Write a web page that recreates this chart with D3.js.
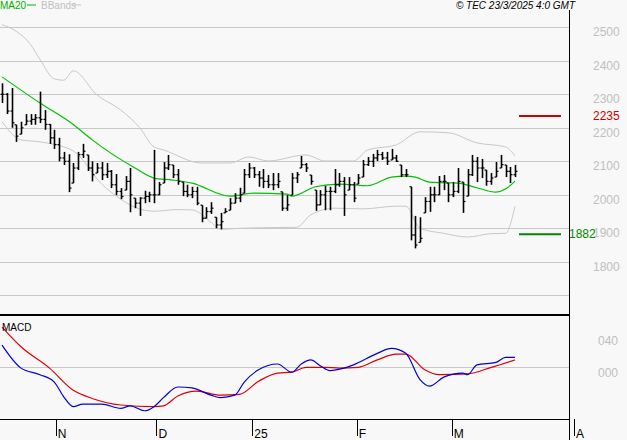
<!DOCTYPE html>
<html><head><meta charset="utf-8">
<script src="https://cdn.jsdelivr.net/npm/d3@7"></script>
<style>body{margin:0;background:#f8f8f8}svg{display:block}text{font-family:"Liberation Sans",Arial,sans-serif}</style>
</head><body><svg id="c" width="627" height="440"></svg>
<script>
const highs=[2333,2304,2319,2209,2218,2241,2241,2241,2308,2253,2211,2194,2170,2128,2121,2095,2128,2152,2119,2100,2095,2098,2095,2074,2062,2020,2056,2080,
1990,1993,2012,2009,2134,2038,2098,2119,2089,2077,2038,2030,2024,2024,1969,1963,1978,1933,1946,1960,1990,2005,2021,2077,2095,2083,2071,
2077,2059,2065,2065,2009,1999,2065,2068,2116,2095,2059,2014,2014,2027,2024,2077,2065,2053,2053,2038,2062,2104,2113,2122,2134,2128,2128,
2137,2119,2089,2077,2024,1937,1933,1993,2024,2024,2056,2059,2035,2038,2080,2038,2077,2119,2113,2107,2074,2065,2098,2119,2089,2083,2089];
const lows=[2274,2241,2200,2158,2181,2209,2209,2209,2214,2194,2152,2137,2100,2089,2008,2035,2074,2110,2071,2040,2065,2044,2050,2020,1999,1987,2014,1948,
1960,1937,1975,1978,1975,1999,2035,2074,2050,2030,1996,1993,1990,1969,1918,1930,1943,1900,1897,1946,1954,1975,1978,2005,2050,2050,2024,
2020,2020,2014,2020,1952,1952,1999,2035,2080,2068,2030,1952,1969,1954,1954,2005,2024,1937,2014,1978,2032,2053,2086,2083,2101,2104,2089,
2104,2098,2053,2053,1864,1840,1858,1946,1949,1978,1999,2014,1978,1993,2005,1946,1996,2056,2038,2050,2027,2030,2053,2080,2053,2035,2053];
const closes=[2300,2250,2215,2175,2200,2220,2225,2230,2225,2210,2170,2150,2110,2100,2020,2080,2120,2130,2080,2060,2080,2060,2070,2030,2010,1995,2040,2000,
1975,1990,1995,2000,2000,2030,2080,2090,2060,2040,2010,2000,2010,1975,1930,1950,1960,1910,1920,1950,1975,1990,2000,2060,2080,2060,2050,
2040,2030,2030,2040,1960,1970,2050,2060,2090,2080,2040,1970,2000,2010,2010,2030,2040,2000,2030,1990,2050,2090,2100,2110,2120,2110,2100,
2110,2100,2060,2060,1880,1850,1870,1980,2000,2000,2040,2040,2000,2010,2040,1980,2060,2100,2080,2080,2040,2050,2070,2090,2070,2060,2070];
const ma20=[[0,2352],[8,2274],[15,2210],[19,2164],[28,2080],[32,2050],[36,2044],[40,2035],[48,1996],[53,2005],[60,2002],[61,1996],[66,2024],[71,2032],[77,2027],[82,2053],[85,2056],[87,2053],[90,2038],[96,2035],[100,2021],[104,2008],[106,2017],[108,2041]];
const bbUpper=[[0,2508],[3,2488],[6,2449],[8,2404],[11,2346],[13,2342],[15,2370],[20,2298],[25,2253],[29,2200],[32,2143],[34,2134],[42,2095],[48,2095],[52,2113],[56,2101],[64,2119],[68,2101],[74,2101],[77,2134],[83,2149],[88,2188],[94,2185],[100,2155],[106,2143],[108,2116]];
const bbLower=[[0,2218],[4,2164],[8,2158],[15,2131],[21,2032],[25,1987],[28,1963],[32,1951],[37,1956],[40,1955],[42,1942],[44,1918],[46,1897],[50,1900],[56,1902],[62,1903],[65,1940],[70,1960],[76,1958],[83,1966],[85,1966],[88,1900],[93,1885],[98,1874],[103,1884],[106,1885],[108,1966]];
const macdLine=[[0,27],[4,-1],[8,-9],[11,-18],[13,-36],[15,-48],[17,-45],[21,-45],[25,-50],[27,-47],[30,-53],[32,-48],[34,-37],[37,-24],[40,-25],[44,-34],[46,-37],[49,-34],[51,-18],[54,-3],[58,4],[61,-6],[63,4],[65,9],[67,2],[69,-4],[72,-1],[74,3],[79,17],[82,23],[85,17],[88,-15],[90,-23],[93,-12],[97,-7],[98,-9],[100,3],[104,6],[106,12],[108,12]];
const signalLine=[[0,49],[4,25],[10,-1],[15,-28],[19,-38],[25,-46],[32,-48],[34,-47],[37,-35],[41,-29],[46,-34],[50,-33],[54,-17],[58,-7],[61,-6],[64,0],[68,0],[71,-1],[75,0],[79,9],[83,16],[85,16],[89,-3],[92,-9],[98,-8],[103,0],[108,9]];
const priceTicks=[1800,1900,2000,2100,2200,2300,2400,2500];
const gridPrices=[1700,1800,1900,2000,2100,2200,2300,2400,2500];
const macdTicks=[0,40];
const monthTicks=[[11.3,"N"],[32.5,"D"],[52.7,"25"],[74.7,"F"],[94.7,"M"],[120.4,"A"]];
const resistance=2235, support=1882;

const svg=d3.select("#c");
svg.append("rect").attr("width",627).attr("height",440).attr("fill","#f8f8f8");
const x=d3.scaleLinear().domain([0,108]).range([2,515]);
const y=d3.scaleLinear().domain([1700,2500]).range([295.3,27.3]);
const ym=d3.scaleLinear().domain([-60,40]).range([416.5,334.5]);
const grid="#c8c8c8";
svg.selectAll(".g").data(gridPrices).enter().append("line").attr("x1",0).attr("x2",569)
 .attr("y1",d=>Math.round(y(d))+0.5).attr("y2",d=>Math.round(y(d))+0.5).attr("stroke",grid);
svg.selectAll(".pl").data(priceTicks).enter().append("text").attr("x",593).attr("y",d=>y(d)+9)
 .attr("fill","#c0c0c0").attr("font-size",12).text(d=>d);
const line=d3.line().x(d=>x(d[0])).y(d=>y(d[1])).curve(d3.curveMonotoneX);
[[bbUpper,"#c8c8c8"],[bbLower,"#c8c8c8"]].forEach(([d,c])=>svg.append("path").attr("d",line(d)).attr("fill","none").attr("stroke",c).attr("stroke-width",1));
svg.append("path").attr("d",line(ma20)).attr("fill","none").attr("stroke","#00c000").attr("stroke-width",1.2);
const bars=svg.append("g").attr("stroke","#000").attr("stroke-width",1.6);
highs.forEach((h,i)=>{const X=Math.round(x(i))+0.5;
 bars.append("line").attr("x1",X).attr("x2",X).attr("y1",y(h)).attr("y2",y(lows[i]));
 const o=i>0?closes[i-1]:closes[i];
 bars.append("line").attr("x1",X-2).attr("x2",X).attr("y1",y(Math.min(h,Math.max(lows[i],o)))).attr("y2",y(Math.min(h,Math.max(lows[i],o)))).attr("stroke-width",1.2);
 bars.append("line").attr("x1",X).attr("x2",X+2).attr("y1",y(closes[i])).attr("y2",y(closes[i])).attr("stroke-width",1.2);
});
svg.append("line").attr("x1",519).attr("x2",561).attr("y1",y(resistance)).attr("y2",y(resistance)).attr("stroke","#cc0000").attr("stroke-width",2);
svg.append("text").attr("x",593).attr("y",y(resistance)+4).attr("fill","#cc0000").attr("font-size",12).text(resistance);
svg.append("line").attr("x1",519).attr("x2",561).attr("y1",y(support)).attr("y2",y(support)).attr("stroke","#008800").attr("stroke-width",2);
svg.append("text").attr("x",569).attr("y",y(support)+4).attr("fill","#008800").attr("font-size",12).text(support);
svg.append("text").attr("x",0).attr("y",9).attr("fill","#00b000").attr("font-size",10).text("MA20");
svg.append("line").attr("x1",27).attr("x2",36).attr("y1",5).attr("y2",5).attr("stroke","#00b000");
svg.append("text").attr("x",41).attr("y",9).attr("fill","#c0c0c0").attr("font-size",10).text("BBands");
svg.append("line").attr("x1",72).attr("x2",81).attr("y1",5).attr("y2",5).attr("stroke","#c0c0c0");
svg.append("text").attr("x",575).attr("y",9).attr("text-anchor","end").attr("font-size",10).attr("font-style","italic").text("© TEC 23/3/2025 4:0 GMT");
svg.append("line").attr("x1",569.5).attr("x2",569.5).attr("y1",10).attr("y2",440).attr("stroke","#000");
svg.append("line").attr("x1",0).attr("x2",569).attr("y1",315).attr("y2",315).attr("stroke","#000").attr("stroke-width",2);
svg.append("line").attr("x1",0).attr("x2",569).attr("y1",Math.round(ym(0))+0.5).attr("y2",Math.round(ym(0))+0.5).attr("stroke",grid);
svg.selectAll(".ml").data(macdTicks).enter().append("text").attr("x",598).attr("y",d=>ym(d)+10).attr("fill","#c0c0c0").attr("font-size",12).text(d=>d===0?"000":"040");
const mline=d3.line().x(d=>x(d[0])).y(d=>ym(d[1])).curve(d3.curveMonotoneX);
svg.append("path").attr("d",mline(signalLine)).attr("fill","none").attr("stroke","#dd0000").attr("stroke-width",1.2);
svg.append("path").attr("d",mline(macdLine)).attr("fill","none").attr("stroke","#0000dd").attr("stroke-width",1.2);
svg.append("text").attr("x",2).attr("y",331).attr("font-size",10).text("MACD");
svg.append("line").attr("x1",0).attr("x2",569).attr("y1",419.5).attr("y2",419.5).attr("stroke","#000");
const t=svg.selectAll(".t").data(monthTicks).enter().append("g");
t.append("line").attr("x1",d=>Math.round(x(d[0]))+0.5).attr("x2",d=>Math.round(x(d[0]))+0.5).attr("y1",419).attr("y2",436).attr("stroke","#000");
t.append("text").attr("x",d=>x(d[0])+2).attr("y",438).attr("font-size",12).text(d=>d[1]);
</script></body></html>
